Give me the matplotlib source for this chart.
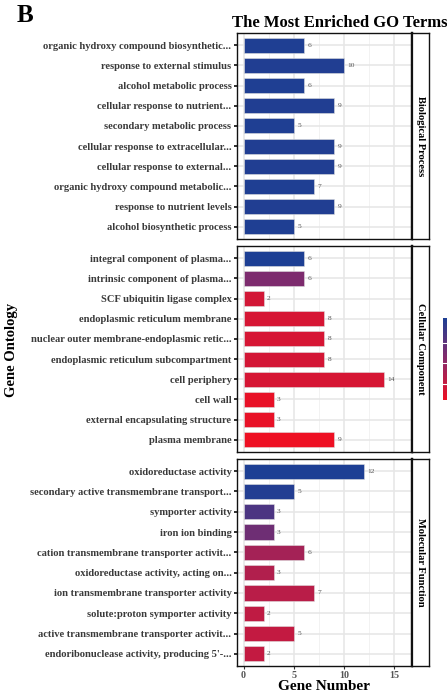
import numpy as np
import matplotlib
matplotlib.use("Agg")
import matplotlib.pyplot as plt
from matplotlib.colors import LinearSegmentedColormap, Normalize
from matplotlib.colorbar import ColorbarBase

plt.rcParams['font.family'] = ['Liberation Serif', 'DejaVu Serif']
plt.rcParams['font.weight'] = 'bold'
plt.rcParams['axes.labelweight'] = 'bold'

# Biological Process
bp_terms = ['organic hydroxy compound biosynthetic...',
            'response to external stimulus',
            'alcohol metabolic process',
            'cellular response to nutrient...',
            'secondary metabolic process',
            'cellular response to extracellular...',
            'cellular response to external...',
            'organic hydroxy compound metabolic...',
            'response to nutrient levels',
            'alcohol biosynthetic process']
bp_counts = [6, 10, 6, 9, 5, 9, 9, 7, 9, 5]
bp_padj = [0.99, 0.98, 0.99, 0.98, 0.99, 0.98, 0.98, 0.99, 0.98, 0.99]

# Cellular Component
cc_terms = ['integral component of plasma...',
            'intrinsic component of plasma...',
            'SCF ubiquitin ligase complex',
            'endoplasmic reticulum membrane',
            'nuclear outer membrane-endoplasmic retic...',
            'endoplasmic reticulum subcompartment',
            'cell periphery',
            'cell wall',
            'external encapsulating structure',
            'plasma membrane']
cc_counts = [6, 6, 2, 8, 8, 8, 14, 3, 3, 9]
cc_padj = [1.0, 0.55, 0.14, 0.12, 0.12, 0.13, 0.12, 0.03, 0.03, 0.0]

# Molecular Function
mf_terms = ['oxidoreductase activity',
            'secondary active transmembrane transport...',
            'symporter activity',
            'iron ion binding',
            'cation transmembrane transporter activit...',
            'oxidoreductase activity, acting on...',
            'ion transmembrane transporter activity',
            'solute:proton symporter activity',
            'active transmembrane transporter activit...',
            'endoribonuclease activity, producing 5\'-...']
mf_counts = [12, 5, 3, 3, 6, 3, 7, 2, 5, 2]
mf_padj = [1.0, 0.97, 0.78, 0.62, 0.36, 0.3, 0.26, 0.23, 0.21, 0.21]

panels = [('Biological Process', bp_terms, bp_counts, bp_padj),
          ('Cellular Component', cc_terms, cc_counts, cc_padj),
          ('Molecular Function', mf_terms, mf_counts, mf_padj)]

cmap = LinearSegmentedColormap.from_list('rb', ['#ee1023', '#87296a', '#1d3f94'])
norm = Normalize(0, 1)

W, H = 447, 694
fig = plt.figure(figsize=(W / 100, H / 100), dpi=100)

ax_left, ax_right, strip_right = 237, 412, 429
tops = [33, 246, 459]
bottoms = [239, 452, 666]

for i, (name, terms, counts, padj) in enumerate(panels):
    y0 = 1 - bottoms[i] / H
    h = (bottoms[i] - tops[i]) / H
    ax = fig.add_axes([ax_left / W, y0, (ax_right - ax_left) / W, h])
    ypos = np.arange(len(terms))[::-1]
    ax.barh(ypos, counts, height=0.75, color=cmap(norm(padj)),
            edgecolor='#dddddd', linewidth=0.4, zorder=3)
    for y, c in zip(ypos, counts):
        ax.text(c + 0.35, y, str(c), va='center', ha='left',
                fontsize=5.3, color='#555555', fontweight='normal', zorder=4)
    ax.set_xlim(-0.65, 16.8)
    ax.set_ylim(-0.6, len(terms) - 0.4)
    ax.set_yticks(ypos)
    ax.set_yticklabels(terms, fontsize=7.6, color='#3a3a3a')
    ax.set_xticks([0, 5, 10, 15])
    ax.set_xticks([2.5, 7.5, 12.5], minor=True)
    ax.grid(True, which='major', color='#e6e6e6', linewidth=1.1, zorder=0)
    ax.grid(True, which='minor', axis='x', color='#f0f0f0', linewidth=0.6, zorder=0)
    ax.set_axisbelow(True)
    ax.tick_params(axis='y', length=2.5, width=1.3, color='#222222', pad=1.5)
    ax.tick_params(axis='x', which='minor', length=0)
    if i < 2:
        ax.tick_params(axis='x', length=0, labelbottom=False)
    else:
        ax.tick_params(axis='x', length=2.5, width=0.8, color='#333333',
                       labelsize=7.2, labelcolor='#555555', pad=1)
        ax.set_xlabel('Gene Number', fontsize=11, labelpad=0, color='black')
    for s in ax.spines.values():
        s.set_linewidth(1.0)
        s.set_color('#111111')
    ax.spines['right'].set_linewidth(1.6)

    sx = fig.add_axes([ax_right / W, y0, (strip_right - ax_right) / W, h])
    sx.set_xticks([])
    sx.set_yticks([])
    for s in sx.spines.values():
        s.set_linewidth(1.0)
        s.set_color('#111111')
    sx.spines['left'].set_linewidth(1.6)
    sx.text(0.5, 0.5, name, rotation=-90, ha='center', va='center',
            fontsize=7.6, transform=sx.transAxes)

# colour scale, partly outside the canvas
cax = fig.add_axes([443 / W, 1 - 400 / H, 22 / W, 82 / H])
cb = ColorbarBase(cax, cmap=cmap, norm=norm, orientation='vertical')
cb.outline.set_visible(False)
cb.set_ticks([0.2, 0.45, 0.7])
cax.tick_params(length=0, labelright=False)
for t in [0.2, 0.45, 0.7]:
    cax.axhline(t, color='white', linewidth=0.8)

fig.text(12 / W, 1 - 350 / H, 'Gene Ontology', rotation=90, ha='center',
         va='center', fontsize=10.5)
fig.text(17 / W, 1 - 16 / H, 'B', ha='left', va='center', fontsize=18)
fig.text(232 / W, 1 - 23 / H, 'The Most Enriched GO Terms', ha='left',
         va='center', fontsize=12)

fig.savefig('out.png', dpi=100)
